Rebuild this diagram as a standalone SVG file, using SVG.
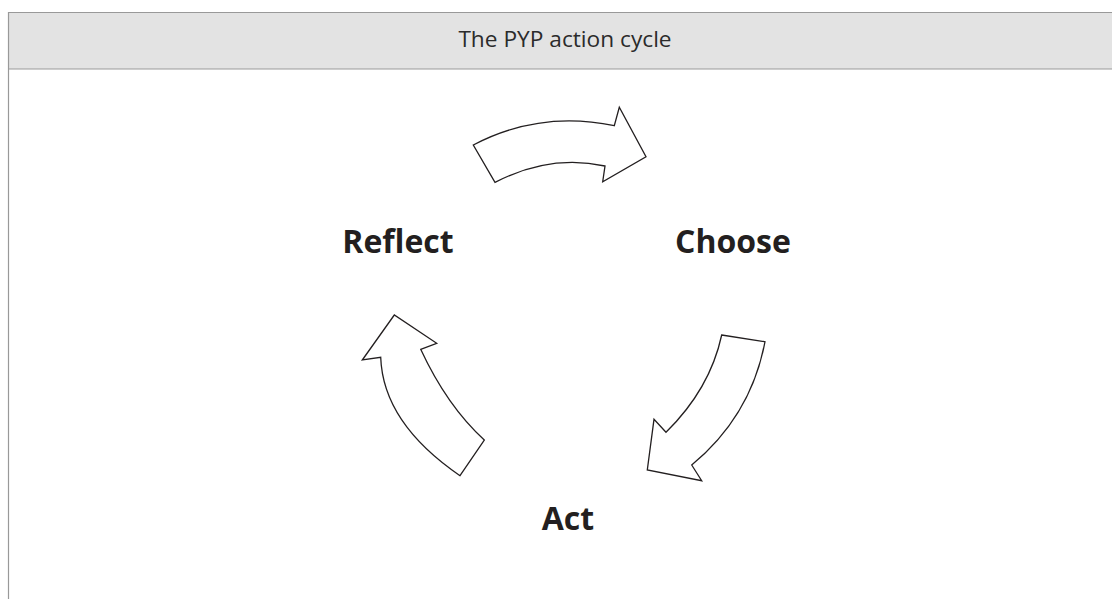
<svg xmlns="http://www.w3.org/2000/svg" width="1112" height="599" viewBox="0 0 1112 599">
<style>
.arrow{fill:#fff;stroke:#231f20;stroke-width:1.3;stroke-linejoin:miter}
.lbl{font-family:"Open Sans","Noto Sans",sans-serif;font-weight:bold;font-size:32px;fill:#231f20;text-anchor:middle}
.title{font-family:"Open Sans","Noto Sans",sans-serif;font-size:22.7px;fill:#2b2b2b;text-anchor:middle}
</style>
<rect x="0" y="0" width="1112" height="599" fill="#fff"/>
<g id="header">
<rect x="8" y="12" width="1110" height="57" fill="#e3e3e3"/>
<line x1="8" y1="12.5" x2="1112" y2="12.5" stroke="#999" stroke-width="1.2"/>
<line x1="8" y1="69" x2="1112" y2="69" stroke="#999" stroke-width="1.2"/>
<line x1="8.5" y1="12" x2="8.5" y2="599" stroke="#999" stroke-width="1.2"/>
<text class="title" x="565" y="46.5">The PYP action cycle</text>
</g>
<g id="connectors">
<path class="arrow" d="M473.3,145 Q540,110 614.3,125.7 L619.3,107.3 L646,156.7 L602.7,181.7 L605,166 Q550,154 495,182.3 Z"/>
<path class="arrow" d="M721.7,335 L765,341.7 Q751,416 691.7,465 L701.7,480.7 L647.3,470 L654,419.3 L666,432.3 Q710,389 721.7,335 Z"/>
<path class="arrow" d="M460,475.7 L484.3,440 Q447,406 420.7,349.3 L436.7,343.3 L394.3,315 L362.3,360 L380.7,357.3 Q383,423 460,475.7 Z"/>
</g>
<g id="reflect"><text class="lbl" x="398" y="253">Reflect</text></g>
<g id="choose"><text class="lbl" x="733" y="253">Choose</text></g>
<g id="act"><text class="lbl" x="568" y="530">Act</text></g>
</svg>
